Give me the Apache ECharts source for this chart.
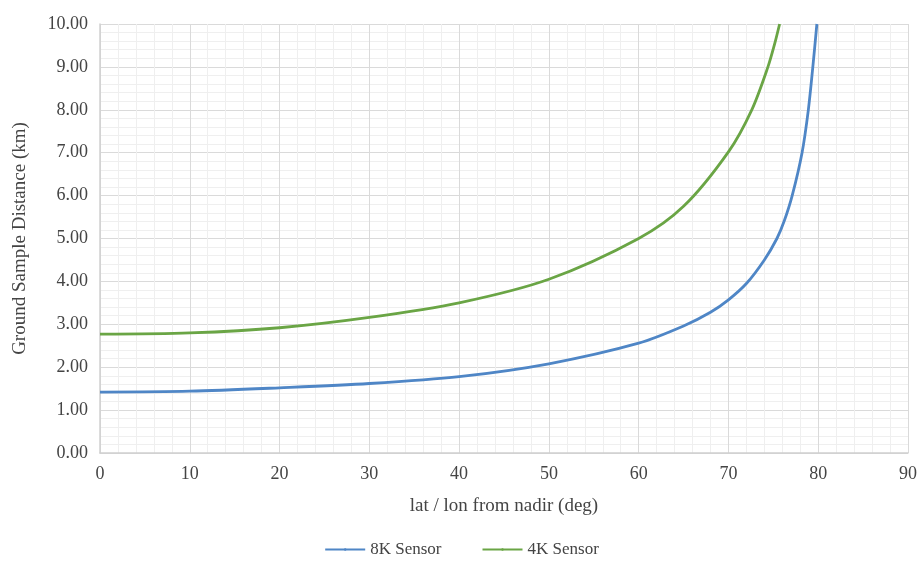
<!DOCTYPE html>
<html>
<head>
<meta charset="utf-8">
<script src="https://cdn.jsdelivr.net/npm/echarts@6/dist/echarts.min.js"></script>
<style>html,body{margin:0;padding:0;background:#fff}#c{width:923px;height:565px}</style>
</head>
<body>
<div id="c"></div>
<script>
var seriesNames = ['8K Sensor', '4K Sensor'];
var x8K = [0, 10, 20, 30, 40, 50, 60, 65, 68, 70, 72, 74, 75.4, 76.2, 77.1, 78.2, 78.9, 79.4, 79.85];
var y8K = [1.42, 1.44, 1.52, 1.62, 1.78, 2.08, 2.56, 2.96, 3.28, 3.57, 3.95, 4.5, 5.0, 5.4, 6.0, 7.0, 8.0, 9.0, 10.0];
var x4K = [0, 10, 20, 30, 40, 50, 60, 65, 70, 72.6, 74.4, 75.1, 75.7];
var y4K = [2.77, 2.80, 2.92, 3.16, 3.50, 4.05, 5.0, 5.75, 7.02, 8.0, 9.0, 9.5, 10.0];
var xTicks = [0, 90, 10];
var yTicks = [0, 10, 1];

function pairs(xs, ys) { return xs.map(function (x, i) { return [x, ys[i]]; }); }

var font = 'Liberation Serif';
var txt = '#444444';
var chart = echarts.init(document.getElementById('c'));
chart.setOption({
  animation: false,
  textStyle: { fontFamily: font },
  grid: { left: 100, right: 15, top: 24, bottom: 112 },
  legend: {
    bottom: 2, left: 'center', itemWidth: 40, itemHeight: 3, itemGap: 40,
    textStyle: { fontFamily: font, fontSize: 17, color: txt },
    data: seriesNames
  },
  xAxis: {
    type: 'value', min: xTicks[0], max: xTicks[1], interval: xTicks[2],
    name: 'lat / lon from nadir (deg)', nameLocation: 'middle', nameGap: 44,
    nameTextStyle: { fontFamily: font, fontSize: 19, color: txt },
    axisLine: { lineStyle: { color: '#d0d0d0', width: 1.5 } },
    axisTick: { show: false },
    axisLabel: { fontFamily: font, fontSize: 18, color: txt, margin: 12 },
    splitLine: { lineStyle: { color: '#dadada' } },
    minorTick: { show: false, splitNumber: 5 },
    minorSplitLine: { show: true, lineStyle: { color: '#efefef' } }
  },
  yAxis: {
    type: 'value', min: yTicks[0], max: yTicks[1], interval: yTicks[2],
    name: 'Ground Sample Distance (km)', nameLocation: 'middle', nameGap: 70,
    nameTextStyle: { fontFamily: font, fontSize: 19, color: txt },
    axisLine: { show: true, lineStyle: { color: '#d0d0d0', width: 1.5 } },
    axisTick: { show: false },
    axisLabel: { fontFamily: font, fontSize: 18, color: txt, margin: 12, formatter: function (v) { return v.toFixed(2); } },
    splitLine: { lineStyle: { color: '#dadada' } },
    minorTick: { show: false, splitNumber: 5 },
    minorSplitLine: { show: true, lineStyle: { color: '#efefef' } }
  },
  series: [
    { name: seriesNames[0], type: 'line', data: pairs(x8K, y8K), symbol: 'none', smooth: 0.3,
      lineStyle: { color: '#4f86c6', width: 2.8 }, itemStyle: { color: '#4f86c6' } },
    { name: seriesNames[1], type: 'line', data: pairs(x4K, y4K), symbol: 'none', smooth: 0.3,
      lineStyle: { color: '#6aa545', width: 2.8 }, itemStyle: { color: '#6aa545' } }
  ]
});
</script>
</body>
</html>
